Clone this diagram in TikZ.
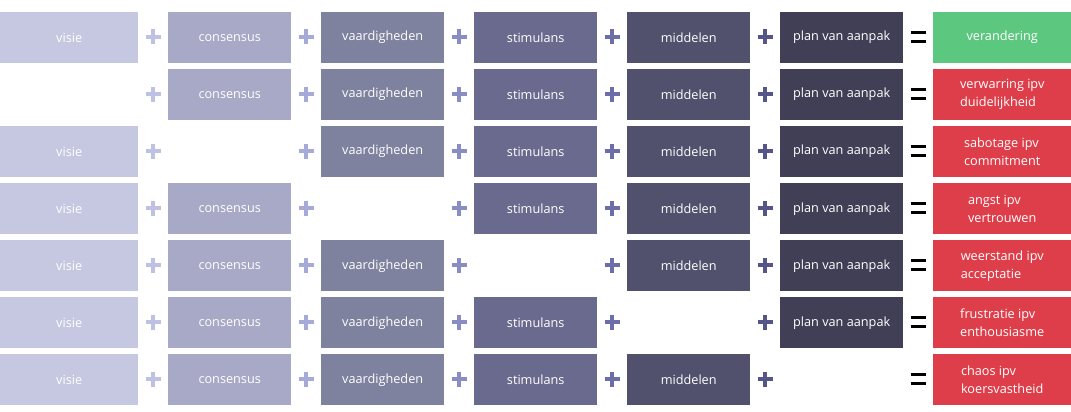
\documentclass[tikz,border=0pt]{standalone}
\usepackage{fontspec}
\setmainfont{Open Sans}
\definecolor{cA}{HTML}{C5C8E0}
\definecolor{cB}{HTML}{A7A9C6}
\definecolor{cC}{HTML}{7F829F}
\definecolor{cD}{HTML}{6A6A8E}
\definecolor{cE}{HTML}{52516D}
\definecolor{cF}{HTML}{413F56}
\definecolor{cGood}{HTML}{5CC87F}
\definecolor{cBad}{HTML}{DE3E4A}
\definecolor{pA}{HTML}{BEC1E4}
\definecolor{pB}{HTML}{A6AAD8}
\definecolor{pC}{HTML}{8A8CC4}
\definecolor{pD}{HTML}{6C6DA9}
\definecolor{pE}{HTML}{55558A}
\tikzset{
  blk/.style={rectangle, draw=none, inner sep=0pt, minimum height=51pt,
    text=white, font=\fontsize{12.7}{18}\selectfont, anchor=north west},
  mid/.style={blk, minimum width=123pt},
  res/.style={blk, minimum width=138pt, align=left},
  plusbar/.style={line width=3.6pt, line cap=butt},
  eqbar/.style={line width=3.4pt, line cap=butt, black},
}
\begin{document}
\begin{tikzpicture}[x=1pt,y=-1pt]
\useasboundingbox (0,0) rectangle (1071,412);
% boxes
\foreach \r/\res/\rc in {0/verandering/cGood,
  1/{verwarring ipv\\duidelijkheid}/cBad,
  2/{sabotage ipv\\commitment}/cBad,
  3/{angst ipv\\vertrouwen}/cBad,
  4/{weerstand ipv\\acceptatie}/cBad,
  5/{frustratie ipv\\enthousiasme}/cBad,
  6/{chaos ipv\\koersvastheid}/cBad}{
  \pgfmathsetmacro{\yy}{12+57*\r}
  \ifnum\r=1\else
    \node[blk, minimum width=138pt, fill=cA] (b\r-1) at (0,\yy) {visie};
  \fi
  \ifnum\r=2\else
    \node[mid, fill=cB] (b\r-2) at (168,\yy) {consensus};
  \fi
  \ifnum\r=3\else
    \node[mid, fill=cC] (b\r-3) at (321,\yy) {vaardigheden};
  \fi
  \ifnum\r=4\else
    \node[mid, fill=cD] (b\r-4) at (474,\yy) {stimulans};
  \fi
  \ifnum\r=5\else
    \node[mid, fill=cE] (b\r-5) at (627,\yy) {middelen};
  \fi
  \ifnum\r=6\else
    \node[mid, fill=cF] (b\r-6) at (780,\yy) {plan van aanpak};
  \fi
  \node[res, fill=\rc] (b\r-7) at (933,\yy) {\res};
  % operators
  \pgfmathsetmacro{\cy}{\yy+25}
  \foreach \px/\pc in {153/pA,306/pB,459/pC,612/pD,765/pE}{
    \draw[plusbar, \pc] (\px-7.5,\cy) -- (\px+7.5,\cy);
    \draw[plusbar, \pc] (\px,\cy-7.5) -- (\px,\cy+7.5);
  }
  \draw[eqbar] (910.5,\cy-4.3) -- (925.5,\cy-4.3);
  \draw[eqbar] (910.5,\cy+4.3) -- (925.5,\cy+4.3);
}
\end{tikzpicture}
\end{document}
